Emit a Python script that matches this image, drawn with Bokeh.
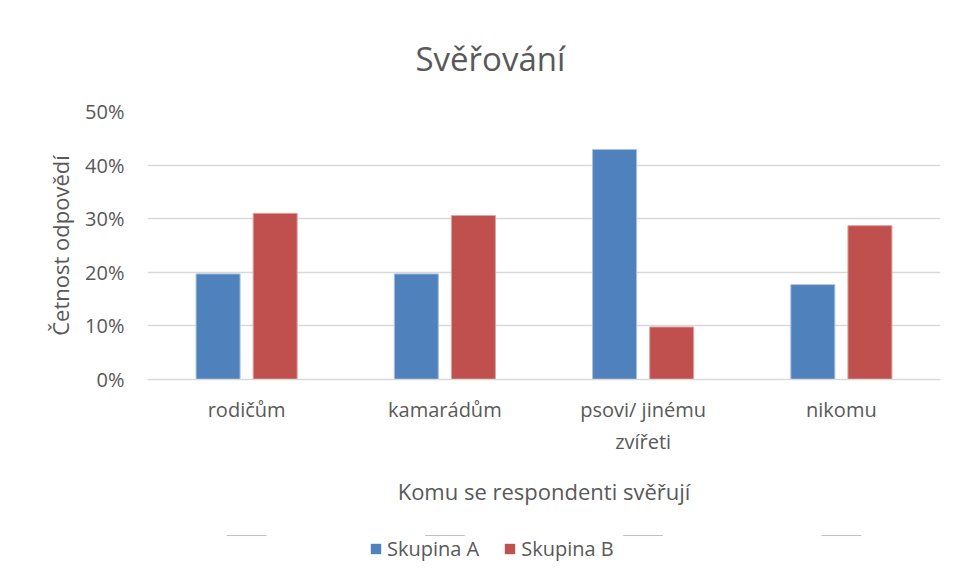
from bokeh.plotting import figure
from bokeh.layouts import column
from bokeh.models import FactorRange, Range1d, ColumnDataSource, Legend, LegendItem, NumeralTickFormatter, FixedTicker
from bokeh.transform import dodge
from bokeh.embed import file_html
from bokeh.resources import INLINE

categories = ["rodičům", "kamarádům", "psovi/ jinému\nzvířeti", "nikomu"]
skupina_a = [0.197, 0.197, 0.429, 0.177]
skupina_b = [0.310, 0.306, 0.098, 0.287]
series_names = ["Skupina A", "Skupina B"]
y_ticks = [0, 0.1, 0.2, 0.3, 0.4, 0.5]

FONT = "Open Sans"
TXT = "#595959"
GRID = "#d9d9d9"
BLUE = "#4f81bd"
RED = "#c0504d"
BLUE_EDGE = "#a9c0e0"
RED_EDGE = "#dba3a2"

src = ColumnDataSource(dict(cat=categories, a=skupina_a, b=skupina_b))

p = figure(x_range=FactorRange(factors=categories, range_padding=0), y_range=Range1d(0, 0.5),
           width=950, height=535, output_backend="svg", toolbar_location=None,
           min_border_left=147, min_border_right=10, min_border_top=111, min_border_bottom=156,
           title="Svěřování")
p.outline_line_color = None
p.background_fill_color = "white"
p.border_fill_color = "white"

ra = p.vbar(x=dodge("cat", -0.144, range=p.x_range), top="a", width=0.222, source=src,
            fill_color=BLUE, line_color=BLUE_EDGE, line_width=1)
rb = p.vbar(x=dodge("cat", 0.144, range=p.x_range), top="b", width=0.222, source=src,
            fill_color=RED, line_color=RED_EDGE, line_width=1)

p.title.align = "left"
p.title.offset = 268
p.title.text_font = FONT
p.title.text_font_size = "33px"
p.title.text_font_style = "normal"
p.title.text_color = TXT
p.title.standoff = 61

p.yaxis.ticker = FixedTicker(ticks=y_ticks)
p.yaxis.formatter = NumeralTickFormatter(format="0%")
p.yaxis.axis_line_color = None
p.yaxis.major_tick_line_color = None
p.yaxis.minor_tick_line_color = None
p.yaxis.major_label_text_font = FONT
p.yaxis.major_label_text_font_size = "20px"
p.yaxis.major_label_text_color = TXT
p.yaxis.major_label_standoff = 17
p.yaxis.axis_label = "Četnost odpovědí"
p.yaxis.axis_label_text_font = FONT
p.yaxis.axis_label_text_font_size = "22px"
p.yaxis.axis_label_text_font_style = "normal"
p.yaxis.axis_label_text_color = TXT
p.yaxis.axis_label_standoff = 7

p.xaxis.axis_line_color = GRID
p.xaxis.axis_line_width = 1.5
p.xaxis.major_tick_line_color = None
p.xaxis.minor_tick_line_color = None
p.xaxis.major_label_text_font = FONT
p.xaxis.major_label_text_font_size = "20px"
p.xaxis.major_label_text_color = TXT
p.xaxis.major_label_standoff = 10
p.xaxis.axis_label = "Komu se respondenti svěřují"
p.xaxis.axis_label_text_font = FONT
p.xaxis.axis_label_text_font_size = "22px"
p.xaxis.axis_label_text_font_style = "normal"
p.xaxis.axis_label_text_color = TXT
p.xaxis.axis_label_standoff = 18

p.xgrid.grid_line_color = None
p.ygrid.grid_line_color = GRID
p.ygrid.grid_line_width = 1.5
p.ygrid.ticker = FixedTicker(ticks=y_ticks)

# legend strip below the chart (its proxy bars have zero height and sit outside the visible y range)
lg = figure(x_range=FactorRange(factors=categories), y_range=Range1d(-20, -19), width=950, height=46,
            output_backend="svg", toolbar_location=None,
            x_axis_location=None, y_axis_location=None,
            min_border_left=0, min_border_right=0, min_border_top=0, min_border_bottom=0)
lg.outline_line_color = None
lg.xgrid.grid_line_color = None
lg.ygrid.grid_line_color = None
la = lg.vbar(x="cat", top="a", bottom="a", width=0.2, source=src, fill_color=BLUE, line_color=None)
lb = lg.vbar(x="cat", top="b", bottom="b", width=0.2, source=src, fill_color=RED, line_color=None)

legend = Legend(items=[LegendItem(label=series_names[0], renderers=[la]),
                       LegendItem(label=series_names[1], renderers=[lb])],
                orientation="horizontal", location=(222, 19),
                label_text_font=FONT, label_text_font_size="20px", label_text_color=TXT,
                glyph_width=13, glyph_height=13, label_standoff=5, spacing=24,
                border_line_color=None, background_fill_alpha=0, padding=0, margin=0)
lg.add_layout(legend, "center")

layout = column(p, lg, spacing=0)
open("out.html", "w").write(file_html(layout, INLINE))
